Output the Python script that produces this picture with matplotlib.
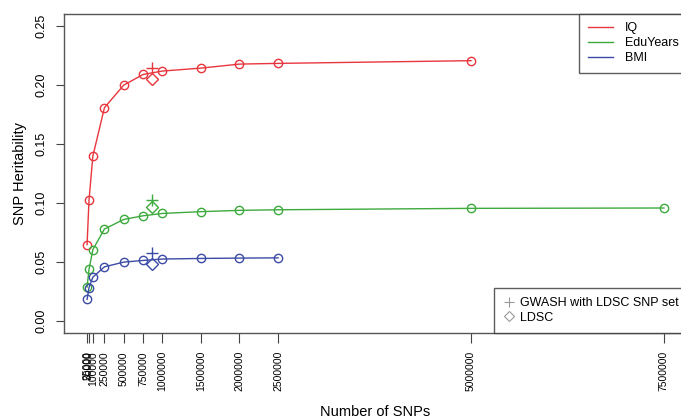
import matplotlib
matplotlib.use("Agg")
import matplotlib.pyplot as plt
from matplotlib.lines import Line2D

plt.rcParams['font.family'] = ['Liberation Sans', 'DejaVu Sans']

# Data
iq_x = [25000, 50000, 100000, 250000, 500000, 750000, 1000000, 1500000, 2000000, 2500000, 5000000]
iq_y = [0.0648, 0.1024, 0.1397, 0.1807, 0.1998, 0.2088, 0.2117, 0.2142, 0.2176, 0.2182, 0.2205]
edu_x = [25000, 50000, 100000, 250000, 500000, 750000, 1000000, 1500000, 2000000, 2500000, 5000000, 7500000]
edu_y = [0.0289, 0.0438, 0.0606, 0.0780, 0.0861, 0.0892, 0.0912, 0.0927, 0.0938, 0.0943, 0.0955, 0.0958]
bmi_x = [25000, 50000, 100000, 250000, 500000, 750000, 1000000, 1500000, 2000000, 2500000]
bmi_y = [0.0185, 0.0284, 0.0373, 0.0460, 0.0500, 0.0514, 0.0526, 0.0531, 0.0534, 0.0536]

ldsc_snps = 870000
gwash_vals = [0.2140, 0.1025, 0.0578]
ldsc_vals = [0.2050, 0.0970, 0.0486]

series_names = ["IQ", "EduYears", "BMI"]
colors = ['#E8363D', '#3DAA3D', '#3C4BA5']

xticks = [25000, 50000, 100000, 250000, 500000, 750000, 1000000, 1500000, 2000000, 2500000, 5000000, 7500000]
xtick_labels = [str(v) for v in xticks]
yticks = [0.00, 0.05, 0.10, 0.15, 0.20, 0.25]

fig = plt.figure(figsize=(6.81, 4.20), dpi=100)
ax = fig.add_axes([64/681, 1-333/420, (687-64)/681, (333-14)/420])

for xs, ys, c in zip([iq_x, edu_x, bmi_x], [iq_y, edu_y, bmi_y], colors):
    ax.plot(xs, ys, color=c, lw=1.0, marker='o', ms=6.0, mfc='none', mec=c, mew=1.0)

for g, l, c in zip(gwash_vals, ldsc_vals, colors):
    ax.plot([ldsc_snps], [g], marker='+', ms=9, color=c, mew=1.0, ls='none')
    ax.plot([ldsc_snps], [l], marker='D', ms=6.0, mfc='none', mec=c, mew=1.0, ls='none')

ax.set_xlim(-274000, 7799000)
ax.set_ylim(-0.01, 0.26)
ax.set_xticks(xticks)
ax.set_xticklabels(xtick_labels, rotation=90, fontsize=7.5)
ax.set_yticks(yticks)
ax.set_yticklabels(["0.00", "0.05", "0.10", "0.15", "0.20", "0.25"], rotation=90, va='center', fontsize=9)
ax.tick_params(axis='x', length=7, pad=6, color='#444444')
ax.tick_params(axis='y', length=6, pad=6, color='#444444')
for s in ax.spines.values():
    s.set_color('#555555')
    s.set_linewidth(1.0)

ax.set_xlabel("Number of SNPs", fontsize=10.5, labelpad=10)
ax.set_ylabel("SNP Heritability", fontsize=10.5, labelpad=6)

h1 = [Line2D([0], [0], color=c, lw=1.0) for c in colors]
leg1 = ax.legend(h1, series_names, loc='upper right', bbox_to_anchor=(1.0, 1.0),
                 frameon=True, fancybox=False, fontsize=9, handlelength=2.0,
                 borderaxespad=0.0, labelspacing=0.25, borderpad=0.65, handletextpad=1.0)
leg1.get_frame().set_edgecolor('#333333')
leg1.get_frame().set_linewidth(1.0)
ax.add_artist(leg1)

h2 = [Line2D([0], [0], color='#999999', marker='+', ls='none', ms=7, mew=0.8),
      Line2D([0], [0], color='#999999', marker='D', ls='none', ms=5, mfc='none', mew=0.8)]
leg2 = ax.legend(h2, ["GWASH with LDSC SNP set", "LDSC"], loc='lower right', bbox_to_anchor=(1.002, 0.0),
                 frameon=True, fancybox=False, fontsize=9, handlelength=0.8,
                 borderaxespad=0.0, labelspacing=0.2, borderpad=0.75, handletextpad=0.5)
leg2.get_frame().set_edgecolor('#333333')
leg2.get_frame().set_linewidth(1.0)

fig.savefig("out.png", dpi=100)
